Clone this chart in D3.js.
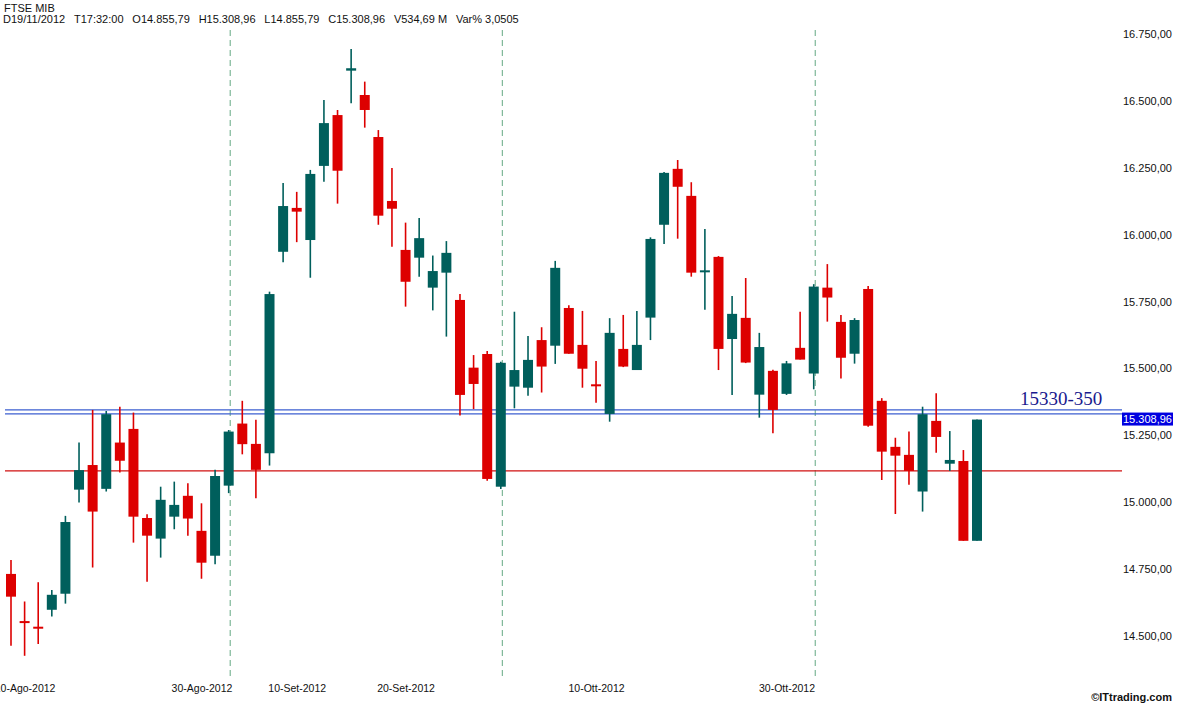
<!DOCTYPE html>
<html>
<head>
<meta charset="utf-8">
<script src="https://cdn.jsdelivr.net/npm/d3@7/dist/d3.min.js"></script>
<style>
  html, body { margin: 0; padding: 0; background: #fff; }
  svg { display: block; }
</style>
</head>
<body>
<svg id="chart" width="1177" height="705"></svg>
<script>
// ---------- DATA ----------
const dates = [
  "09-Ago-2012","10-Ago-2012","13-Ago-2012","14-Ago-2012","16-Ago-2012","17-Ago-2012",
  "20-Ago-2012","21-Ago-2012","22-Ago-2012","23-Ago-2012","24-Ago-2012",
  "27-Ago-2012","28-Ago-2012","29-Ago-2012","30-Ago-2012","31-Ago-2012",
  "03-Set-2012","04-Set-2012","05-Set-2012","06-Set-2012","07-Set-2012",
  "10-Set-2012","11-Set-2012","12-Set-2012","13-Set-2012","14-Set-2012",
  "17-Set-2012","18-Set-2012","19-Set-2012","20-Set-2012","21-Set-2012",
  "24-Set-2012","25-Set-2012","26-Set-2012","27-Set-2012","28-Set-2012",
  "01-Ott-2012","02-Ott-2012","03-Ott-2012","04-Ott-2012","05-Ott-2012",
  "08-Ott-2012","09-Ott-2012","10-Ott-2012","11-Ott-2012","12-Ott-2012",
  "15-Ott-2012","16-Ott-2012","17-Ott-2012","18-Ott-2012","19-Ott-2012",
  "22-Ott-2012","23-Ott-2012","24-Ott-2012","25-Ott-2012","26-Ott-2012",
  "29-Ott-2012","30-Ott-2012","31-Ott-2012","01-Nov-2012","02-Nov-2012",
  "05-Nov-2012","06-Nov-2012","07-Nov-2012","08-Nov-2012","09-Nov-2012",
  "12-Nov-2012","13-Nov-2012","14-Nov-2012","15-Nov-2012","16-Nov-2012",
  "19-Nov-2012"
];
const open = [
  14732,14552,14531,14598,14658,15047,
  15139,15050,15223,15274,14941,
  14864,14946,15024,14893,14800,
  15062,15294,15218,15183,15936,
  16100,15980,16257,16447,16613,
  16522,16365,16126,15943,15914,
  15802,15858,15756,15503,15554,
  15058,15432,15428,15606,15585,
  15726,15588,15437,15330,15573,
  15494,15690,16037,16246,16145,
  15858,15917,15610,15689,15402,
  15491,15405,15577,15481,15802,
  15674,15555,15797,15379,15207,
  15177,15040,15304,15144,15154,
  14855.79
];
const high = [
  14784,14629,14701,14672,14949,15223,
  15345,15341,15357,15335,14955,
  15058,15077,15071,14996,15121,
  15270,15379,15308,15787,16193,
  16160,16242,16503,16466,16694,
  16572,16391,16249,16045,16062,
  15922,15976,15778,15550,15565,
  15525,15712,15621,15654,15902,
  15736,15715,15528,15688,15700,
  15715,15990,16234,16279,16196,
  16021,15920,15771,15838,15633,
  15495,15528,15712,15815,15890,
  15700,15688,15808,15389,15241,
  15264,15357,15407,15266,15195,
  15308.96
];
const low = [
  14464,14426,14470,14573,14621,14999,
  14756,15040,15111,14849,14703,
  14793,14899,14875,14714,14768,
  15034,15179,15015,15137,15897,
  15972,15839,16198,16116,16491,
  16400,16037,15955,15731,15843,
  15717,15619,15324,15348,15080,
  15049,15351,15398,15410,15517,
  15555,15428,15372,15301,15505,
  15494,15606,15965,15985,15843,
  15719,15494,15401,15520,15316,
  15258,15401,15533,15422,15675,
  15462,15518,15282,15083,14956,
  15065,14965,15185,15117,14855.79,
  14855.79
];
const close = [
  14647,14545,14524,14654,14926,15120,
  14965,15329,15155,14946,14875,
  15009,14990,14939,14774,15098,
  15264,15217,15121,15778,16107,
  16086,16227,16417,16239,16622,
  16466,16071,16097,15824,15987,
  15864,15932,15401,15442,15087,
  15521,15494,15532,15507,15876,
  15555,15499,15435,15633,15507,
  15588,15984,16231,16179,15858,
  15863,15573,15704,15522,15580,
  15345,15519,15533,15806,15765,
  15540,15681,15286,15189,15174,
  15117,15329,15244,15158,14855.79,
  15308.96
];
const yTicks = [14500,14750,15000,15250,15500,15750,16000,16250,16500,16750];
const xTickLabels = ["10-Ago-2012","30-Ago-2012","10-Set-2012","20-Set-2012","10-Ott-2012","30-Ott-2012"];
const monthStarts = ["03-Set-2012","01-Ott-2012","01-Nov-2012"];
const resistanceLevels = [15330, 15345];
const supportLevel = 15117;
const annotationText = "15330-350";
const title = "FTSE MIB";
const lastTime = "17:32:00";
const lastDate = "19/11/2012";
const volumeText = "534,69 M";

// ---------- SETUP ----------
const svg = d3.select("#chart");
const SANS = "'Liberation Sans', Arial, sans-serif";
const SERIF = "'Liberation Serif', 'Times New Roman', serif";
const itLocale = d3.formatLocale({decimal: ",", thousands: ".", grouping: [3], currency: ["", "€"]});
const fmt = itLocale.format(",.2f");
const fmtPct = itLocale.format(".4f");

const x = d3.scalePoint().domain(dates).range([11, 977]);
const y = d3.scaleLinear().domain([14500, 16750]).range([636, 34]);

const TEAL = "#005f5c", RED = "#dd0000";
const candles = dates.map((d, i) => ({d, o: open[i], h: high[i], l: low[i], c: close[i]}));

// month-start dashed lines
svg.append("g").selectAll("line").data(monthStarts).join("line")
  .attr("x1", d => x(d) + 1.5).attr("x2", d => x(d) + 1.5)
  .attr("y1", 30).attr("y2", 680)
  .attr("stroke", "#63a883").attr("stroke-width", 1)
  .attr("stroke-dasharray", "6,4");

// horizontal levels
svg.append("g").selectAll("line").data(resistanceLevels).join("line")
  .attr("x1", 5).attr("x2", 1122)
  .attr("y1", d => y(d)).attr("y2", d => y(d))
  .attr("stroke", "#3d5fd0").attr("stroke-width", 1.3);
svg.append("line")
  .attr("x1", 5).attr("x2", 1122)
  .attr("y1", y(supportLevel)).attr("y2", y(supportLevel))
  .attr("stroke", "#d01010").attr("stroke-width", 1.2);

// candles
const cg = svg.append("g").selectAll("g").data(candles).join("g");
cg.append("line")
  .attr("x1", d => x(d.d)).attr("x2", d => x(d.d))
  .attr("y1", d => y(d.h)).attr("y2", d => y(d.l))
  .attr("stroke", d => d.c >= d.o ? TEAL : RED)
  .attr("stroke-width", 1.6);
cg.append("rect")
  .attr("x", d => x(d.d) - 5)
  .attr("width", 10)
  .attr("y", d => Math.min(y(d.o), y(d.c)) - (Math.abs(y(d.o) - y(d.c)) < 2 ? 1 : 0))
  .attr("height", d => Math.max(2, Math.abs(y(d.o) - y(d.c))))
  .attr("fill", d => d.c >= d.o ? TEAL : RED);

// y axis on right
const yAxis = d3.axisRight(y).tickValues(yTicks).tickSize(0).tickPadding(0).tickFormat(fmt);
const ya = svg.append("g").attr("transform", "translate(1123,0)").call(yAxis);
ya.select(".domain").remove();
ya.selectAll("text").style("font-size", "11px").style("fill", "#111").style("font-family", SANS);

// last price box
const last = candles[candles.length - 1];
const prev = candles[candles.length - 2];
svg.append("rect").attr("x", 1122).attr("y", y(last.c) - 7).attr("width", 51).attr("height", 13)
  .attr("fill", "#0000e0");
svg.append("text").attr("x", 1123).attr("y", y(last.c)).attr("dy", "0.35em")
  .style("font-size", "11px").style("font-family", SANS).style("fill", "#fff").text(fmt(last.c));

// annotation
svg.append("text").attr("x", 1020).attr("y", 405)
  .style("font-family", SERIF).style("font-size", "19px").style("fill", "#1a1a8e").text(annotationText);

// x axis labels
const xAxis = d3.axisBottom(x).tickValues(xTickLabels).tickSize(0).tickPadding(0);
const xa = svg.append("g").attr("transform", "translate(0,685)").call(xAxis);
xa.select(".domain").remove();
xa.selectAll("text").style("font-size", "10.5px").style("fill", "#111").style("font-family", SANS);

// header
svg.append("text").attr("x", 4).attr("y", 12)
  .style("font-size", "11px").style("font-family", SANS).style("fill", "#111").text(title);
const varPct = (last.c - prev.c) / prev.c * 100;
const headerFields = [
  "D" + lastDate, "T" + lastTime,
  "O" + fmt(last.o), "H" + fmt(last.h), "L" + fmt(last.l), "C" + fmt(last.c),
  "V" + volumeText, "Var% " + fmtPct(varPct)
];
let hx = 3;
const hg = svg.append("g");
headerFields.forEach(f => {
  const t = hg.append("text").attr("x", hx).attr("y", 23)
    .style("font-size", "11px").style("font-family", SANS).style("fill", "#111").text(f);
  hx += t.node().getComputedTextLength() + 8.8;
});

// copyright
svg.append("text").attr("x", 1172).attr("y", 701).attr("text-anchor", "end")
  .style("font-size", "11px").style("font-weight", "bold").style("font-family", SANS)
  .style("fill", "#111").text("©ITtrading.com");
</script>
</body>
</html>
